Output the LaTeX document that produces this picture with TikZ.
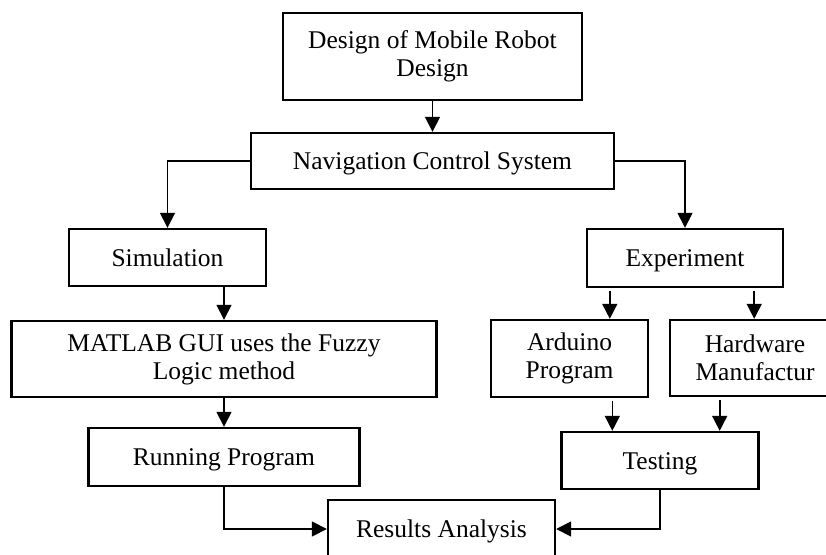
\documentclass[tikz,border=0pt]{standalone}
\usepackage{fontspec}
\setmainfont{Liberation Serif}
\usetikzlibrary{arrows.meta}

\begin{document}
\begin{tikzpicture}[x=1pt, y=-1pt,
        box/.style={draw, line width=2.4pt, align=center, inner sep=0pt,
            font=\fontsize{25.5}{28}\selectfont},
        line/.style={text height=18pt, text depth=1pt},
        arr/.style={line width=1.6pt, -{Triangle[length=15pt,width=15pt]}}]
        \useasboundingbox (0,0) rectangle (826,554);
        \clip (0,0) rectangle (826,554);
        \node[box, minimum width=299pt, minimum height=87pt] (design) at (432.5,56.5) {Design of Mobile Robot\\Design};
        \node[box, line, minimum width=363pt, minimum height=56pt] (nav) at (432.5,161) {Navigation Control System};
        \node[box, line, minimum width=197pt, minimum height=57pt] (sim) at (167.5,257.5) {Simulation};
        \node[box, line, minimum width=196pt, minimum height=58pt] (exp) at (685,258) {Experiment};
        \node[box, minimum width=425pt, minimum height=76pt] (matlab) at (224,359) {MATLAB GUI uses the Fuzzy\\Logic method};
        \node[box, minimum width=157pt, minimum height=77pt] (arduino) at (569.5,358.5) {Arduino\\Program};
        \node[box, minimum width=170pt, minimum height=76pt] (hardware) at (755,358) {Hardware\\Manufactur};
        \node[box, line, minimum width=271pt, minimum height=58pt] (running) at (224,457) {Running Program};
        \node[box, line, minimum width=197pt, minimum height=57pt] (testing) at (660,460.5) {Testing};
        \node[box, line, minimum width=227pt, minimum height=58pt] (results) at (441.5,529) {Results Analysis};
        \draw[arr] (design) -- (nav);
        \draw[arr] (nav.west) -| (sim.north);
        \draw[arr] (nav.east) -| (exp.north);
        \draw[arr] (sim.south -| matlab.north) -- (matlab.north);
        \draw[arr] ([shift={(24,3)}]exp.south west) -- ([shift={(24,0)}]exp.south west |- arduino.north);
        \draw[arr] ([shift={(-30,3)}]exp.south east) -- ([shift={(-30,0)}]exp.south east |- hardware.north);
        \draw[arr] ([shift={(52,3)}]testing.north west |- arduino.south) -- ([shift={(52,0)}]testing.north west);
        \draw[arr] ([shift={(-40,3)}]testing.north east |- hardware.south) -- ([shift={(-40,0)}]testing.north east);
        \draw[arr] (matlab) -- (running);
        \draw[arr] (running.south) |- (results.west);
        \draw[arr] (testing.south) |- (results.east);
    \end{tikzpicture}
\end{document}
